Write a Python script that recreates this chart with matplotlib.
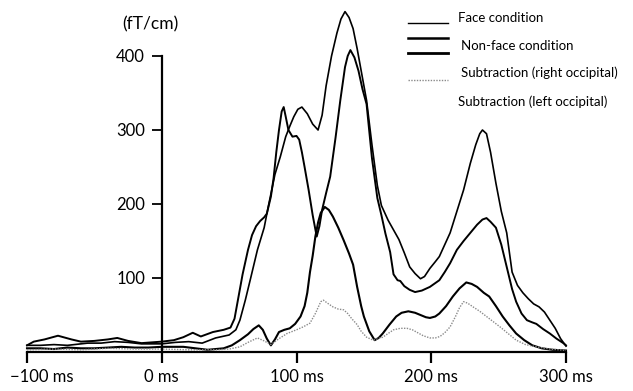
"""Face vs non-face MEG response (fT/cm), with subtraction curves."""

import matplotlib
matplotlib.use("Agg")
import matplotlib.pyplot as plt
import matplotlib.transforms as mtransforms
from matplotlib.lines import Line2D

plt.rcParams["font.family"] = ["Lato", "DejaVu Sans"]

# ── Data ─────────────────────────────────────────────────────────────────────
face_ms = [-100, -90, -80, -70, -55, -45, -35, -25, -15, 0, 10, 20, 30, 40, 50,
           55, 58, 62, 66, 71, 76, 79, 84, 88, 92, 95, 98, 101, 104, 108, 112,
           116, 119, 122, 126, 130, 133, 136, 139, 142, 145, 148, 152, 156, 160,
           163, 168, 172, 176, 180, 184, 188, 192, 195, 199, 203, 206, 210, 214,
           219, 224, 229, 233, 236, 238, 241, 244, 248, 252, 256, 260, 264, 268,
           272, 276, 280, 284, 288, 292, 296, 300]
face_val = [9, 9, 10, 9, 12, 12, 14, 13, 11, 11, 13, 14, 12, 19, 23,
            30, 43, 70, 100, 138, 168, 196, 240, 264, 291, 305, 318, 328, 331, 322, 308,
            300, 320, 360, 400, 431, 450, 460, 452, 437, 410, 380, 340, 280, 225,
            198, 178, 165, 152, 134, 115, 106, 99, 102, 113, 122, 129, 145, 161,
            190, 219, 255, 280, 295, 300, 295, 270, 228, 190, 161, 108, 90, 80,
            72, 65, 61, 54, 43, 32, 18, 8]

nonface_ms = [-100, -95, -87, -77, -67, -60, -50, -40, -33, -25, -15, 0, 9, 16,
              23, 29, 38, 46, 51, 54, 56, 58, 60, 64, 67, 70, 73, 76, 78, 81, 83,
              85, 87, 89, 90.5, 92, 94, 97, 100, 102, 104, 106, 109, 112, 115, 117,
              119, 122, 125, 129, 132.5, 136, 138, 140, 143, 146, 149, 152, 156,
              160, 163, 166, 169.5, 172, 175, 177, 180, 184, 188, 193, 199, 206,
              210, 214, 219, 224, 229, 234, 238, 241, 244, 248, 252, 256, 260, 263,
              267, 271, 275, 278, 283, 288, 293, 298, 300]
nonface_val = [9, 14, 17, 22, 17, 14, 15, 17, 19, 15, 12, 14, 16, 20,
               26, 21, 27, 30, 33, 45, 65, 85, 105, 138, 158, 170, 177, 182, 187, 210, 235,
               270, 300, 325, 331, 318, 300, 291, 292, 287, 270, 250, 219, 185, 156, 170,
               192, 215, 237, 290, 340, 385, 400, 408, 398, 380, 355, 335, 262,
               208, 185, 160, 135, 105, 97, 96, 89, 84, 81, 83, 88, 97,
               108, 120, 138, 150, 161, 172, 179, 181, 176, 168, 145, 115, 85, 68,
               52, 43, 40, 38, 31, 25, 18, 12, 9]

sub_right_ms = [-100, -90, -80, -70, -60, -50, -40, -30, -20, -10, 0, 10, 16, 25,
                34, 46, 52, 58, 64, 68, 72, 75, 78, 81, 84, 87, 91, 95, 99, 103, 106,
                108, 110, 112, 114, 116, 118, 121, 124, 127, 131, 135, 139, 142, 145,
                148, 150, 154, 158, 161, 164, 169, 174, 178, 183, 188, 192, 196, 199,
                203, 206, 211, 216, 221, 226, 230, 234, 239, 243, 248, 253, 258, 263,
                269, 275, 282, 290, 300]
sub_right_val = [5, 5, 4, 6, 5, 5, 6, 7, 6, 6, 7, 7, 7, 5,
                 3, 5, 9, 16, 24, 31, 36, 30, 18, 9, 17, 27, 30, 32, 38, 48, 62,
                 80, 108, 130, 156, 175, 188, 196, 192, 183, 168, 151, 133, 118, 88,
                 62, 48, 28, 16, 19, 25, 37, 48, 53, 55, 53, 50, 47, 46,
                 48, 52, 62, 75, 86, 94, 92, 88, 80, 75, 62, 48, 36, 25,
                 16, 9, 5, 3, 2]

sub_left_ms = [-100, -80, -60, -40, -20, 0, 20, 40, 50, 58, 64, 71, 76, 81, 87,
               93, 100, 105, 110, 114, 118, 120, 123, 127, 131, 135, 138, 141, 145,
               148, 152, 157, 164, 168, 172, 177, 182, 186, 189, 194, 199, 203, 206.5,
               210, 214, 218, 221, 224, 227, 231, 236, 241, 246, 251, 257, 263, 270,
               278, 288, 300]
sub_left_val = [3, 4, 3, 5, 4, 4, 3, 3, 4, 7, 13, 19, 15, 10, 18,
                25, 30, 34, 39, 52, 68, 70, 66, 61, 58, 57, 52, 45, 37,
                28, 20, 16, 20, 25, 30, 32, 32, 30, 27, 22, 19, 19, 21,
                26, 34, 48, 60, 68, 66, 61, 55, 48, 41, 34, 25, 16, 10,
                7, 4, 2]

x_ticks = [-100, 0, 100, 200, 300]
x_labels = ["\u2212100 ms", "0 ms", "100 ms", "200 ms", "300 ms"]
y_ticks = [100, 200, 300, 400]
legend_labels = ["Face condition", "Non-face condition",
                 "Subtraction (right occipital)", "Subtraction (left occipital)"]
# ─────────────────────────────────────────────────────────────────────────────

W, H = 633, 391
fig = plt.figure(figsize=(W / 100, H / 100), dpi=100)
ax = fig.add_axes([27 / W, (H - 352) / H, 539 / W, 470 * 0.74 / H])

ax.plot(face_ms, face_val, color="black", lw=1.2, clip_on=False)
ax.plot(nonface_ms, nonface_val, color="black", lw=1.4, clip_on=False)
ax.plot(sub_right_ms, sub_right_val, color="black", lw=1.5, clip_on=False)
ax.plot(sub_left_ms, sub_left_val, color="#8a8a8a", lw=1.0, ls=(0, (1, 1)),
        clip_on=False)

ax.set_xlim(-100, 300)
ax.set_ylim(0, 470)

for side in ("top", "right"):
    ax.spines[side].set_visible(False)
ax.spines["left"].set_position(("data", 0))
ax.spines["left"].set_bounds(0, 400)
ax.spines["bottom"].set_bounds(-100, 300)
for side in ("left", "bottom"):
    ax.spines[side].set_linewidth(1.6)

ax.set_xticks(x_ticks)
ax.set_xticklabels(x_labels)
ax.set_yticks(y_ticks)
ax.set_yticklabels([str(v) for v in y_ticks])
ax.tick_params(axis="x", direction="out", length=8, width=1.6, pad=4, labelsize=12)
ax.tick_params(axis="y", direction="out", length=7, width=1.3, pad=5, labelsize=12)

# first x label sits to the right of its tick so it stays on the page
first = ax.get_xticklabels()[0]
first.set_ha("left")
first.set_transform(first.get_transform()
                    + mtransforms.ScaledTranslation(-0.17, 0, fig.dpi_scale_trans))

fig.text(150 / W, 1 - 24 / H, "(fT/cm)", ha="center", va="center", fontsize=12.5)

# legend, drawn by hand (samples and labels are offset in the original)
sample_y = [22.7, 37.7, 52.7, 80]
sample_lw = [1.0, 1.8, 2.0, 1.0]
sample_col = ["black", "black", "black", "#8a8a8a"]
sample_ls = ["-", "-", "-", (0, (1, 1))]
for yy, lw, c, ls in zip(sample_y, sample_lw, sample_col, sample_ls):
    fig.add_artist(Line2D([408 / W, 448 / W], [1 - yy / H, 1 - yy / H],
                          transform=fig.transFigure, color=c, lw=lw, ls=ls))
label_x = [458, 461, 461, 458]
label_y = [18, 46, 73, 102]
for lx, ly, txt in zip(label_x, label_y, legend_labels):
    fig.text(lx / W, 1 - ly / H, txt, ha="left", va="center", fontsize=9.5)

fig.savefig("out.png", dpi=100)
